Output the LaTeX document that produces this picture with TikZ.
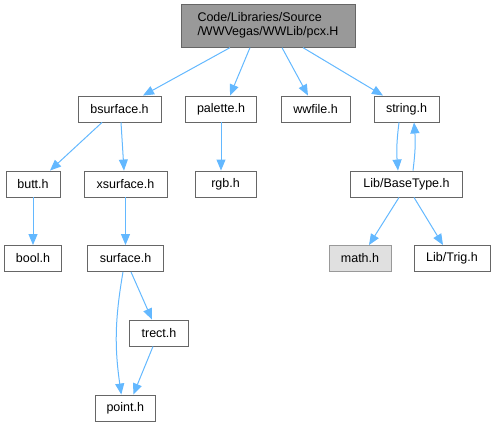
\documentclass[tikz,border=0pt]{standalone}
\usepackage{fontspec}
\setmainfont{Liberation Sans}
\usetikzlibrary{arrows.meta, positioning}
\definecolor{edgecol}{RGB}{99,184,255}
\definecolor{boxline}{RGB}{102,102,102}
\definecolor{rootfill}{RGB}{153,153,153}
\definecolor{extfill}{RGB}{224,224,224}
\definecolor{extline}{RGB}{153,153,153}
\tikzset{
  hdr/.style={draw=boxline, line width=0.9pt, fill=white, minimum height=26pt,
              inner sep=0pt, font=\fontsize{12.5}{14}\selectfont},
  roothdr/.style={hdr, fill=rootfill, minimum height=43pt, align=left},
  exthdr/.style={hdr, fill=extfill, draw=extline},
  dep/.style={-{Triangle[length=11pt,width=9pt]}, edgecol, line width=1pt}
}

\begin{document}
\begin{tikzpicture}[x=1pt,y=-1pt]
\useasboundingbox (0,0) rectangle (495,427);

% ── Included header ──────────────────────────────────────────────────────────
\node[roothdr, minimum width=174pt] (pcx) at (268,25.7)
     {Code/Libraries/Source\\/WWVegas/WWLib/pcx.H};

% ── Headers, one row at a time ───────────────────────────────────────────────
\foreach \name/\xpos/\ypos/\boxw/\label in {
    bsurface/119.5/109/83/bsurface.h,
    palette/221/109/71/palette.h,
    wwfile/315.5/109/69/wwfile.h,
    string/406.5/109/65/string.h,
    butt/33/184/54/butt.h,
    xsurface/125.5/184/83/xsurface.h,
    rgb/225.5/184/61/rgb.h,
    basetype/406.5/184/112/{Lib/BaseType.h},
    bool/33/258.5/57/bool.h,
    surface/125.5/258.5/76/surface.h,
    trig/452/258.5/76/{Lib/Trig.h},
    trect/159/333/59/trect.h,
    point/125.3/408/60/point.h}
{
  \node[hdr, minimum width=\boxw pt] (\name) at (\xpos,\ypos) {\label};
}
% System header (no file)
\node[exthdr, minimum width=62pt] (math) at (360,258.5) {math.h};

% ── Dependencies ─────────────────────────────────────────────────────────────
\draw[dep] ([xshift=-38pt]pcx.south) -- ([xshift=23.5pt]bsurface.north);
\draw[dep] ([xshift=-18pt]pcx.south) -- ([xshift=9pt]palette.north);
\draw[dep] ([xshift=14pt]pcx.south)  -- ([xshift=-7.5pt]wwfile.north);
\draw[dep] ([xshift=35pt]pcx.south)  -- ([xshift=-23.5pt]string.north);

\draw[dep] ([xshift=-17.5pt]bsurface.south) -- ([xshift=17pt]butt.north);
\draw[dep] ([xshift=1.5pt]bsurface.south)   -- ([xshift=-1.5pt]xsurface.north);
\draw[dep] (palette.south) -- (palette.south |- rgb.north);
\draw[dep] (butt) -- (bool);
\draw[dep] (xsurface) -- (surface);

\draw[dep] ([xshift=-2.5pt]surface.south) to[bend right=9] ([xshift=-4pt]point.north);
\draw[dep] ([xshift=5.5pt]surface.south)  -- ([xshift=-7pt]trect.north);
\draw[dep] ([xshift=-6pt]trect.south)     -- ([xshift=8pt]point.north);

% string.h <-> Lib/BaseType.h
\draw[dep] ([xshift=-7.5pt]string.south)  to[bend right=6] ([xshift=-8.5pt]basetype.north);
\draw[dep] ([xshift=6.5pt]basetype.north) to[bend right=6] ([xshift=7.5pt]string.south);

\draw[dep] ([xshift=-7.5pt]basetype.south) -- ([xshift=9pt]math.north);
\draw[dep] ([xshift=7.5pt]basetype.south)  -- ([xshift=-9pt]trig.north);

\end{tikzpicture}
\end{document}
